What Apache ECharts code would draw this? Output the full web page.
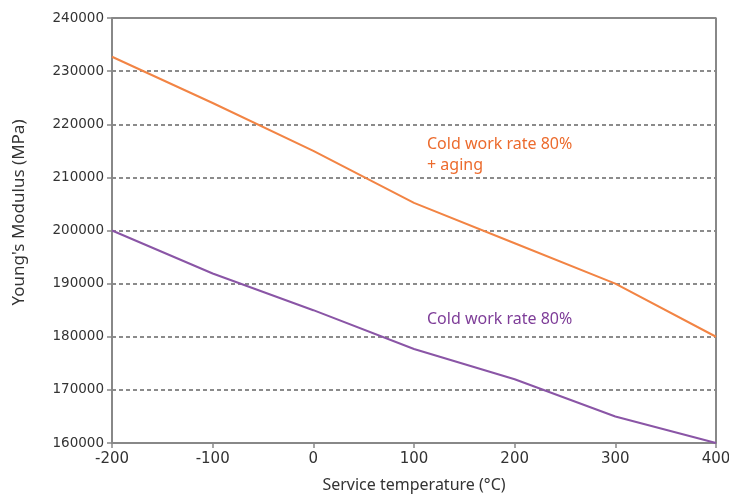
<!DOCTYPE html>
<html>
<head>
<meta charset="utf-8">
<script src="https://cdn.jsdelivr.net/npm/echarts@6/dist/echarts.min.js"></script>
<style>
  html, body { margin: 0; padding: 0; background: #fff; }
  #chart { width: 729px; height: 494px; }
</style>
</head>
<body>
<div id="chart"></div>
<script>
const temps = [-200, -100, 0, 100, 200, 300, 400];
const agedModulus = [232700, 224000, 215000, 205200, 197600, 190000, 180000];
const coldModulus = [200000, 191900, 185000, 177700, 172000, 165000, 160000];
const yTicks = [160000, 170000, 180000, 190000, 200000, 210000, 220000, 230000, 240000];

const orange = '#F28444';
const purple = '#8A55A6';

const chart = echarts.init(document.getElementById('chart'));

chart.setOption({
  animation: false,
  grid: { left: 112, right: 13, top: 18, bottom: 51, outerBoundsMode: 'none', containLabel: false },
  xAxis: {
    type: 'value',
    min: -200,
    max: 400,
    interval: 100,
    name: 'Service temperature (°C)',
    nameLocation: 'middle',
    nameGap: 34,
    nameTextStyle: { color: '#333', fontSize: 16, fontFamily: 'Noto Sans' },
    axisLine: { show: true, onZero: false, lineStyle: { color: '#888', width: 2 } },
    axisTick: { show: true, length: 5, lineStyle: { color: '#888', width: 1.5 } },
    axisLabel: { color: '#333', fontSize: 15, fontFamily: 'DejaVu Sans', margin: 9 },
    splitLine: { show: false }
  },
  yAxis: {
    type: 'value',
    min: yTicks[0],
    max: yTicks[yTicks.length - 1],
    interval: 10000,
    name: "Young's Modulus (MPa)",
    nameLocation: 'middle',
    nameGap: 84,
    nameTextStyle: { color: '#333', fontSize: 17, fontFamily: 'Noto Sans', padding: [0, 0, 0, 36] },
    axisLine: { show: true, onZero: false, lineStyle: { color: '#888', width: 2 } },
    axisTick: { show: true, length: 5, lineStyle: { color: '#888', width: 1.5 } },
    axisLabel: { color: '#333', fontSize: 13.5, fontFamily: 'DejaVu Sans', margin: 8, formatter: v => String(v) },
    splitLine: { show: true, lineStyle: { color: '#666', type: [4, 3], width: 1.5 } }
  },
  series: [
    {
      name: 'Cold work rate 80% + aging',
      type: 'line',
      data: temps.map((t, i) => [t, agedModulus[i]]),
      symbol: 'none',
      lineStyle: { color: orange, width: 2 },
      z: 3
    },
    {
      name: 'Cold work rate 80%',
      type: 'line',
      data: temps.map((t, i) => [t, coldModulus[i]]),
      symbol: 'none',
      lineStyle: { color: purple, width: 2 },
      z: 3
    },
    {
      // top and right border of the plot
      type: 'line',
      data: [[-200, 240000], [400, 240000], [400, 160000]],
      symbol: 'none',
      silent: true,
      lineStyle: { color: '#888', width: 2 },
      z: 2
    }
  ],
  graphic: [
    {
      type: 'text', left: 427, top: 134,
      style: { text: 'Cold work rate 80%\n+ aging', fill: '#EC6B2D', fontSize: 16, fontFamily: 'Noto Sans', lineHeight: 21 }
    },
    {
      type: 'text', left: 427, top: 311,
      style: { text: 'Cold work rate 80%', fill: '#7E3D98', fontSize: 16, fontFamily: 'Noto Sans' }
    }
  ]
});
</script>
</body>
</html>
